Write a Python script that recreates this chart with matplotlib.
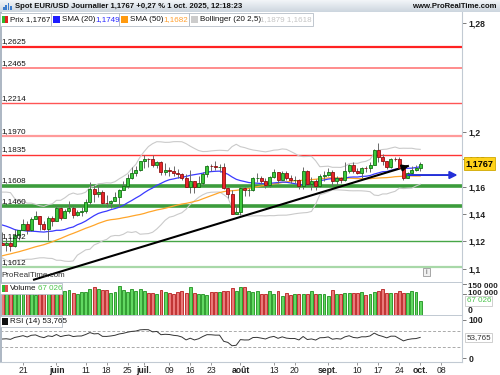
import numpy as np
import pandas as pd
import matplotlib
matplotlib.use("Agg")
import matplotlib.pyplot as plt
from matplotlib.patches import Rectangle
from matplotlib.transforms import blended_transform_factory

W, H = 500, 375
plt.rcParams["font.family"] = ["Liberation Sans", "DejaVu Sans"]

# closes before the visible window (3 mars -> 13 mai), only feed the indicators
closes_before = [1.0484, 1.0624, 1.0790, 1.0785, 1.0834, 1.0833, 1.0918, 1.0889, 1.0853, 1.0880,
                 1.0922, 1.0944, 1.0900, 1.0852, 1.0815, 1.0801, 1.0791, 1.0754, 1.0799, 1.0830,
                 1.0817, 1.0792, 1.0852, 1.1051, 1.0962, 1.0910, 1.0955, 1.0950, 1.1190, 1.1357,
                 1.1348, 1.1286, 1.1400, 1.1366, 1.1393, 1.1510, 1.1424, 1.1313, 1.1390, 1.1364,
                 1.1420, 1.1381, 1.1327, 1.1289, 1.1298, 1.1315, 1.1370, 1.1303, 1.1225, 1.1250,
                 1.1089, 1.1187]

# daily candles 14 mai -> 1 oct. 2025
opens = [1.1186, 1.1175, 1.1187, 1.1163, 1.1243, 1.1283, 1.1330, 1.1282, 1.1364, 1.1384,
         1.1324, 1.1289, 1.1370, 1.1347, 1.1443, 1.1371, 1.1419, 1.1446, 1.1396, 1.1418,
         1.1422, 1.1487, 1.1585, 1.1548, 1.1563, 1.1480, 1.1478, 1.1496, 1.1523, 1.1578,
         1.1608, 1.1660, 1.1701, 1.1719, 1.1787, 1.1802, 1.1800, 1.1757, 1.1778, 1.1708,
         1.1723, 1.1718, 1.1701, 1.1692, 1.1666, 1.1598, 1.1641, 1.1596, 1.1626, 1.1690,
         1.1752, 1.1750, 1.1742, 1.1742, 1.1587, 1.1548, 1.1402, 1.1415, 1.1587, 1.1572,
         1.1574, 1.1660, 1.1666, 1.1642, 1.1615, 1.1674, 1.1705, 1.1648, 1.1700, 1.1662,
         1.1648, 1.1650, 1.1608, 1.1718, 1.1621, 1.1641, 1.1603, 1.1681, 1.1686, 1.1710,
         1.1640, 1.1660, 1.1646, 1.1718, 1.1758, 1.1711, 1.1697, 1.1734, 1.1733, 1.1761,
         1.1867, 1.1816, 1.1785, 1.1745, 1.1803, 1.1802, 1.1737, 1.1664, 1.1703, 1.1725,
         1.1733]
highs = [1.1266, 1.1222, 1.1229, 1.1288, 1.1283, 1.1364, 1.1345, 1.1375, 1.1419, 1.1385,
         1.1347, 1.1385, 1.1384, 1.1455, 1.1449, 1.1433, 1.1495, 1.1455, 1.1430, 1.1450,
         1.1510, 1.1631, 1.1614, 1.1614, 1.1578, 1.1541, 1.1504, 1.1562, 1.1586, 1.1641,
         1.1696, 1.1744, 1.1753, 1.1789, 1.1829, 1.1809, 1.1830, 1.1790, 1.1788, 1.1770,
         1.1747, 1.1749, 1.1728, 1.1701, 1.1693, 1.1721, 1.1641, 1.1677, 1.1706, 1.1760,
         1.1768, 1.1789, 1.1768, 1.1770, 1.1594, 1.1578, 1.1462, 1.1598, 1.1598, 1.1593,
         1.1672, 1.1698, 1.1678, 1.1664, 1.1676, 1.1730, 1.1710, 1.1714, 1.1715, 1.1683,
         1.1676, 1.1658, 1.1743, 1.1719, 1.1668, 1.1658, 1.1695, 1.1718, 1.1735, 1.1721,
         1.1678, 1.1671, 1.1781, 1.1767, 1.1780, 1.1739, 1.1746, 1.1754, 1.1778, 1.1878,
         1.1918, 1.1836, 1.1790, 1.1812, 1.1819, 1.1817, 1.1744, 1.1707, 1.1753, 1.1756,
         1.1779]
lows = [1.1172, 1.1132, 1.1130, 1.1160, 1.1210, 1.1281, 1.1253, 1.1272, 1.1362, 1.1286,
        1.1286, 1.1211, 1.1314, 1.1346, 1.1357, 1.1371, 1.1405, 1.1373, 1.1383, 1.1388,
        1.1410, 1.1471, 1.1489, 1.1527, 1.1474, 1.1448, 1.1446, 1.1492, 1.1452, 1.1578,
        1.1590, 1.1655, 1.1681, 1.1712, 1.1735, 1.1745, 1.1744, 1.1740, 1.1682, 1.1684,
        1.1680, 1.1680, 1.1663, 1.1652, 1.1594, 1.1557, 1.1556, 1.1594, 1.1615, 1.1671,
        1.1715, 1.1722, 1.1708, 1.1584, 1.1520, 1.1400, 1.1401, 1.1392, 1.1535, 1.1529,
        1.1567, 1.1634, 1.1616, 1.1590, 1.1600, 1.1662, 1.1630, 1.1647, 1.1652, 1.1630,
        1.1626, 1.1582, 1.1583, 1.1613, 1.1574, 1.1573, 1.1598, 1.1639, 1.1680, 1.1607,
        1.1610, 1.1628, 1.1640, 1.1703, 1.1700, 1.1691, 1.1660, 1.1708, 1.1710, 1.1758,
        1.1778, 1.1760, 1.1726, 1.1736, 1.1791, 1.1736, 1.1645, 1.1661, 1.1695, 1.1718,
        1.1712]
closes = [1.1175, 1.1187, 1.1163, 1.1243, 1.1283, 1.1330, 1.1282, 1.1364, 1.1384, 1.1324,
          1.1289, 1.1370, 1.1347, 1.1443, 1.1371, 1.1419, 1.1446, 1.1396, 1.1418, 1.1422,
          1.1487, 1.1585, 1.1548, 1.1563, 1.1480, 1.1478, 1.1496, 1.1523, 1.1578, 1.1608,
          1.1660, 1.1701, 1.1719, 1.1787, 1.1802, 1.1800, 1.1757, 1.1778, 1.1708, 1.1723,
          1.1718, 1.1701, 1.1692, 1.1666, 1.1598, 1.1641, 1.1596, 1.1626, 1.1690, 1.1752,
          1.1750, 1.1742, 1.1742, 1.1587, 1.1548, 1.1402, 1.1415, 1.1587, 1.1572, 1.1574,
          1.1660, 1.1666, 1.1642, 1.1615, 1.1674, 1.1705, 1.1648, 1.1700, 1.1662, 1.1648,
          1.1650, 1.1608, 1.1718, 1.1621, 1.1641, 1.1603, 1.1681, 1.1686, 1.1710, 1.1640,
          1.1660, 1.1646, 1.1718, 1.1758, 1.1711, 1.1697, 1.1734, 1.1733, 1.1761, 1.1867,
          1.1816, 1.1785, 1.1745, 1.1803, 1.1802, 1.1737, 1.1664, 1.1703, 1.1725, 1.1733,
          1.1767]
volumes = [118000, 112000, 125000, 121000, 115000, 128000, 119000, 124000, 95000, 117000,
           113000, 126000, 121000, 110000, 115000, 116000, 119000, 103000, 100000, 108000,
           108000, 124000, 132000, 124000, 119000, 119000, 106000, 108000, 140000, 119000,
           108000, 124000, 116000, 124000, 116000, 106000, 103000, 100000, 119000, 111000,
           103000, 100000, 108000, 116000, 103000, 132000, 103000, 100000, 100000, 95000,
           108000, 108000, 108000, 116000, 116000, 127000, 116000, 132000, 132000, 116000,
           111000, 116000, 100000, 100000, 116000, 100000, 116000, 90000, 103000, 95000,
           100000, 100000, 100000, 100000, 116000, 100000, 100000, 100000, 90000, 119000,
           100000, 100000, 103000, 106000, 106000, 106000, 111000, 95000, 100000, 111000,
           116000, 122000, 106000, 103000, 103000, 116000, 103000, 106000, 116000, 111000,
           67026]

start_date = "2025-05-14"
tick_dates = ["2025-05-21", "2025-06-02", "2025-06-11", "2025-06-18", "2025-06-25",
              "2025-07-01", "2025-07-09", "2025-07-16", "2025-07-23", "2025-08-01",
              "2025-08-13", "2025-08-20", "2025-09-01", "2025-09-10", "2025-09-17",
              "2025-09-24", "2025-10-01", "2025-10-08"]
tick_text = ["21", "juin", "11", "18", "25", "juil.", "09", "16", "23", "août",
             "13", "20", "sept.", "10", "17", "24", "oct.", "08"]

levels = [1.2625, 1.2465, 1.2214, 1.1970, 1.1835, 1.1608, 1.1460, 1.1202, 1.1012]
level_text = ["1,2625", "1,2465", "1,2214", "1,1970", "1,1835", "1,1608", "1,1460", "1,1202", "1,1012"]
level_colors = ["#ff2222", "#ff8c8c", "#ff5555", "#ff9a9a", "#ff3333",
                "#3c9c3c", "#3c9c3c", "#46a646", "#a8d8a8"]
level_widths = [1.6, 1.4, 1.0, 1.6, 1.0, 2.6, 2.6, 1.0, 1.6]

price_ticks = [1.1, 1.12, 1.14, 1.16, 1.18, 1.2, 1.28]
price_tick_text = ["1,1", "1,12", "1,14", "1,16", "1,18", "1,2", "1,28"]

# trend line (bar index, price) and horizontal arrow
trend_x = [7.4, 97.3]
trend_y = [1.0917, 1.1753]
arrow_x = [96.4, 109.6]
arrow_y = [1.1685, 1.1685]

# ---- indicators
s = pd.Series(closes_before + closes)
n = len(closes)
sma20 = s.rolling(20).mean().values[-n:]
sma50 = s.rolling(50).mean().values[-n:]
std20 = s.rolling(20).std(ddof=0).values[-n:]
bb_up = sma20 + 2.5 * std20
bb_dn = sma20 - 2.5 * std20
d = s.diff()
ag = d.clip(lower=0).ewm(alpha=1 / 14, adjust=False).mean()
al = (-d.clip(upper=0)).ewm(alpha=1 / 14, adjust=False).mean()
rsi = (100 - 100 / (1 + ag / al)).values[-n:]

pos = np.arange(n)
o = np.array(opens)
c = np.array(closes)
up = c >= o

FS = 5.8    # small texts
FT = 6.2    # axis labels


def box(x0, y0, x1, y1):
    return [x0 / W, 1 - y1 / H, (x1 - x0) / W, (y1 - y0) / H]


def rect(x0, y0, x1, y1, **kw):
    fig.add_artist(Rectangle((x0 / W, 1 - y1 / H), (x1 - x0) / W, (y1 - y0) / H,
                             transform=fig.transFigure, **kw))


def ftext(x, y, txt, **kw):
    kw.setdefault("fontsize", FS)
    kw.setdefault("va", "center")
    fig.text(x / W, 1 - y / H, txt, **kw)


fig = plt.figure(figsize=(5, 3.75), dpi=100)
fig.patch.set_facecolor("white")

XMIN, XMAX = -0.5, 110.0
grid_col = "#c2cad3"

# ---- price panel
ax = fig.add_axes(box(0, 12, 462, 282))
ax.set_xlim(XMIN, XMAX)
ax.set_ylim(1.09019, 1.28785)

for lv, col, lw in zip(levels, level_colors, level_widths):
    ax.axhline(lv, color=col, lw=lw, zorder=1)
tr = blended_transform_factory(ax.transAxes, ax.transData)
for lv, txt in zip(levels, level_text):
    ax.text(0.004, lv + 0.0008, txt, transform=tr, fontsize=FS, va="bottom", ha="left", color="#111111", zorder=6)

ax.plot(pos, bb_up, color="#cacaca", lw=0.8, zorder=2)
ax.plot(pos, bb_dn, color="#cacaca", lw=0.8, zorder=2)
ax.plot(pos, sma50, color="#ffa52a", lw=0.9, zorder=2)
ax.plot(pos, sma20, color="#3a3aff", lw=0.9, zorder=2)

ax.plot(trend_x, trend_y, color="black", lw=1.5, zorder=3, solid_capstyle="butt")
ax.annotate("", xy=(trend_x[1] + 0.6, trend_y[1] + 0.0006), xytext=(trend_x[1] - 1.5, trend_y[1] - 0.0014),
            arrowprops=dict(arrowstyle="-|>", color="black", lw=1.5, mutation_scale=9), zorder=7)
ax.annotate("", xy=(arrow_x[1], arrow_y[1]), xytext=(arrow_x[0], arrow_y[0]),
            arrowprops=dict(arrowstyle="-|>", color="#2430d8", lw=1.4, mutation_scale=11), zorder=7)

ax.vlines(pos, lows, highs, color="#6a6a6a", lw=0.7, zorder=4)
body_bot = np.minimum(o, c)
body_h = np.maximum(np.abs(c - o), 0.0003)
ax.bar(pos[up], body_h[up], bottom=body_bot[up], width=0.72, color="#3cc83c",
       edgecolor="#137013", lw=0.6, zorder=5)
ax.bar(pos[~up], body_h[~up], bottom=body_bot[~up], width=0.72, color="#e8262a",
       edgecolor="#8e1010", lw=0.6, zorder=5)

ax.yaxis.tick_right()
ax.set_yticks(price_ticks)
ax.set_yticklabels(price_tick_text)
ax.tick_params(axis="y", labelsize=FT, length=3, width=0.6, color="#666666", pad=2, labelcolor="#222222")
for lab in ax.get_yticklabels():
    lab.set_fontweight("bold")
ax.tick_params(axis="x", bottom=False, labelbottom=False)
for sp in ["top", "bottom", "left"]:
    ax.spines[sp].set_visible(False)
ax.spines["right"].set_color(grid_col)

ax.text(0.004, 0.012, "ProRealTime.com", transform=ax.transAxes, fontsize=FS, color="#333333", va="bottom")
# last price tag
ax.text(1.008, closes[-1], "1,1767", transform=tr, fontsize=FT + 0.4, fontweight="bold", va="center", ha="left",
        bbox=dict(boxstyle="square,pad=0.2", fc="#ffd21a", ec="#d0a800", lw=0.6), zorder=8, clip_on=False)

# ---- volume panel
axv = fig.add_axes(box(0, 283, 462, 315))
axv.set_xlim(XMIN, XMAX)
axv.set_ylim(0, 152400)
vol = np.array(volumes)
axv.bar(pos[up], vol[up], width=0.7, color="#62d862", edgecolor="#1d901d", lw=0.6)
axv.bar(pos[~up], vol[~up], width=0.7, color="#ea7a7a", edgecolor="#b81c1c", lw=0.6)
axv.set_xticks([])
axv.set_yticks([])
for sp in ["top", "bottom", "left"]:
    axv.spines[sp].set_visible(False)
axv.spines["right"].set_color(grid_col)
trv = blended_transform_factory(axv.transAxes, axv.transData)
for val in [150000, 100000]:
    axv.plot([1.0, 1.008], [val, val], transform=trv, color="#666666", lw=0.6, clip_on=False)
axv.text(1.012, 138000, "150 000", transform=trv, fontsize=FS, fontweight="bold", va="center", color="#222222")
axv.text(1.012, 101000, "100 000", transform=trv, fontsize=FS, fontweight="bold", va="center", color="#222222")
axv.text(1.012, 22000, "0", transform=trv, fontsize=FT, fontweight="bold", va="center", color="#222222")
axv.text(1.01, volumes[-1], "67 026", transform=trv, fontsize=FS, va="center", color="#4cc44c",
         bbox=dict(boxstyle="square,pad=0.15", fc="white", ec="#c8c8c8", lw=0.6), clip_on=False)

# ---- RSI panel
axr = fig.add_axes(box(0, 316, 462, 362))
axr.set_xlim(XMIN, XMAX)
axr.set_ylim(-10.5, 110.5)
axr.axhline(70, color="#aaaaaa", lw=0.7, ls=(0, (3, 2)))
axr.axhline(30, color="#aaaaaa", lw=0.7, ls=(0, (3, 2)))
axr.plot(pos, rsi, color="#333333", lw=0.7)
axr.yaxis.tick_right()
axr.set_yticks([0, 100])
axr.set_yticklabels(["0", "100"])
axr.tick_params(axis="y", labelsize=FT, length=3, width=0.6, color="#666666", pad=2, labelcolor="#222222")
for lab in axr.get_yticklabels():
    lab.set_fontweight("bold")
trr = blended_transform_factory(axr.transAxes, axr.transData)
axr.text(1.01, rsi[-1], "53,765", transform=trr, fontsize=FS, va="center", color="#333333",
         bbox=dict(boxstyle="square,pad=0.15", fc="white", ec="#c8c8c8", lw=0.6), clip_on=False)
tick_pos = [np.busday_count(start_date, td) for td in tick_dates]
axr.set_xticks(tick_pos)
axr.set_xticklabels(tick_text)
axr.tick_params(axis="x", labelsize=FT, length=2, width=0.6, color="#888888", pad=1, labelcolor="#222222")
for lab in axr.get_xticklabels():
    if not lab.get_text().isdigit():
        lab.set_fontweight("bold")
for sp in ["top", "left"]:
    axr.spines[sp].set_visible(False)
axr.spines["right"].set_color(grid_col)
axr.spines["bottom"].set_color(grid_col)

# ---- panel separators and left edge
for yy in [282.5, 315.5]:
    rect(0, yy - 0.5, 462, yy + 0.5, color=grid_col, lw=0)
rect(0, 12, 1.5, 362, color="#aeb8c4", lw=0)

# ---- title bar
axt = fig.add_axes(box(0, 0, 500, 12))
grad = np.linspace(0, 1, 20).reshape(-1, 1)
axt.imshow(grad, aspect="auto", cmap=matplotlib.colors.LinearSegmentedColormap.from_list("t", ["#f2f5f8", "#cdd6df"]),
           extent=[0, 1, 0, 1])
axt.axis("off")
for i, hh in enumerate([3, 5, 7, 4]):
    rect(3 + i * 2.3, 10 - hh, 4.6 + i * 2.3, 10, color="#3c7ccc", lw=0)
ftext(15, 6, "Spot EUR/USD Journalier 1,1767 +0,27 % 1 oct. 2025, 12:18:23", fontsize=5.6,
      fontweight="bold", color="#111111")
ftext(497, 6, "www.ProRealTime.com", fontsize=5.6, fontweight="bold", ha="right", color="#111111")

# ---- legend strip
rect(0, 13, 313, 25.5, fc="white", ec="#b6bec8", lw=0.6)
for xs in [51, 119, 189]:
    rect(xs, 13, xs + 0.6, 25.5, color="#b6bec8", lw=0)
rect(2, 16, 5, 23, color="#2fb82f", lw=0)
rect(5, 16, 8, 23, color="#e02020", lw=0)
ftext(10, 19.5, "Prix 1,1767", color="#111111")
rect(53, 16, 60, 23, color="#1c1cff", lw=0)
ftext(62, 19.5, "SMA (20)", color="#111111")
ftext(95, 19.5, "1,1749", color="#2a2aff")
rect(121, 16, 128, 23, color="#ff9a10", lw=0)
ftext(130, 19.5, "SMA (50)", color="#111111")
ftext(163, 19.5, "1,1682", color="#ffa030")
rect(191, 16, 198, 23, color="#cccccc", lw=0)
ftext(200, 19.5, "Bollinger (20 2,5)", color="#111111")
ftext(260, 19.5, "1,1879 1,1618", color="#c4c4c4")

# volume and RSI legends
rect(0, 283, 62, 294, fc="white", ec="#b6bec8", lw=0.6)
rect(2, 285, 5, 292, color="#2fb82f", lw=0)
rect(5, 285, 8, 292, color="#e05050", lw=0)
ftext(10, 288.5, "Volume", color="#111111")
ftext(38, 288.5, "67 026", color="#4cc44c")
rect(0, 316, 62, 327, fc="white", ec="#b6bec8", lw=0.6)
rect(2, 318, 8, 325, color="#111111", lw=0)
ftext(10, 321.5, "RSI (14) 53,765", color="#111111")

# info icon
rect(423, 268, 430, 276, fc="#f0f0f0", ec="#999999", lw=0.6)
ftext(426.5, 272, "i", fontsize=5, ha="center", color="#555555")

fig.savefig("out.png", dpi=100)
